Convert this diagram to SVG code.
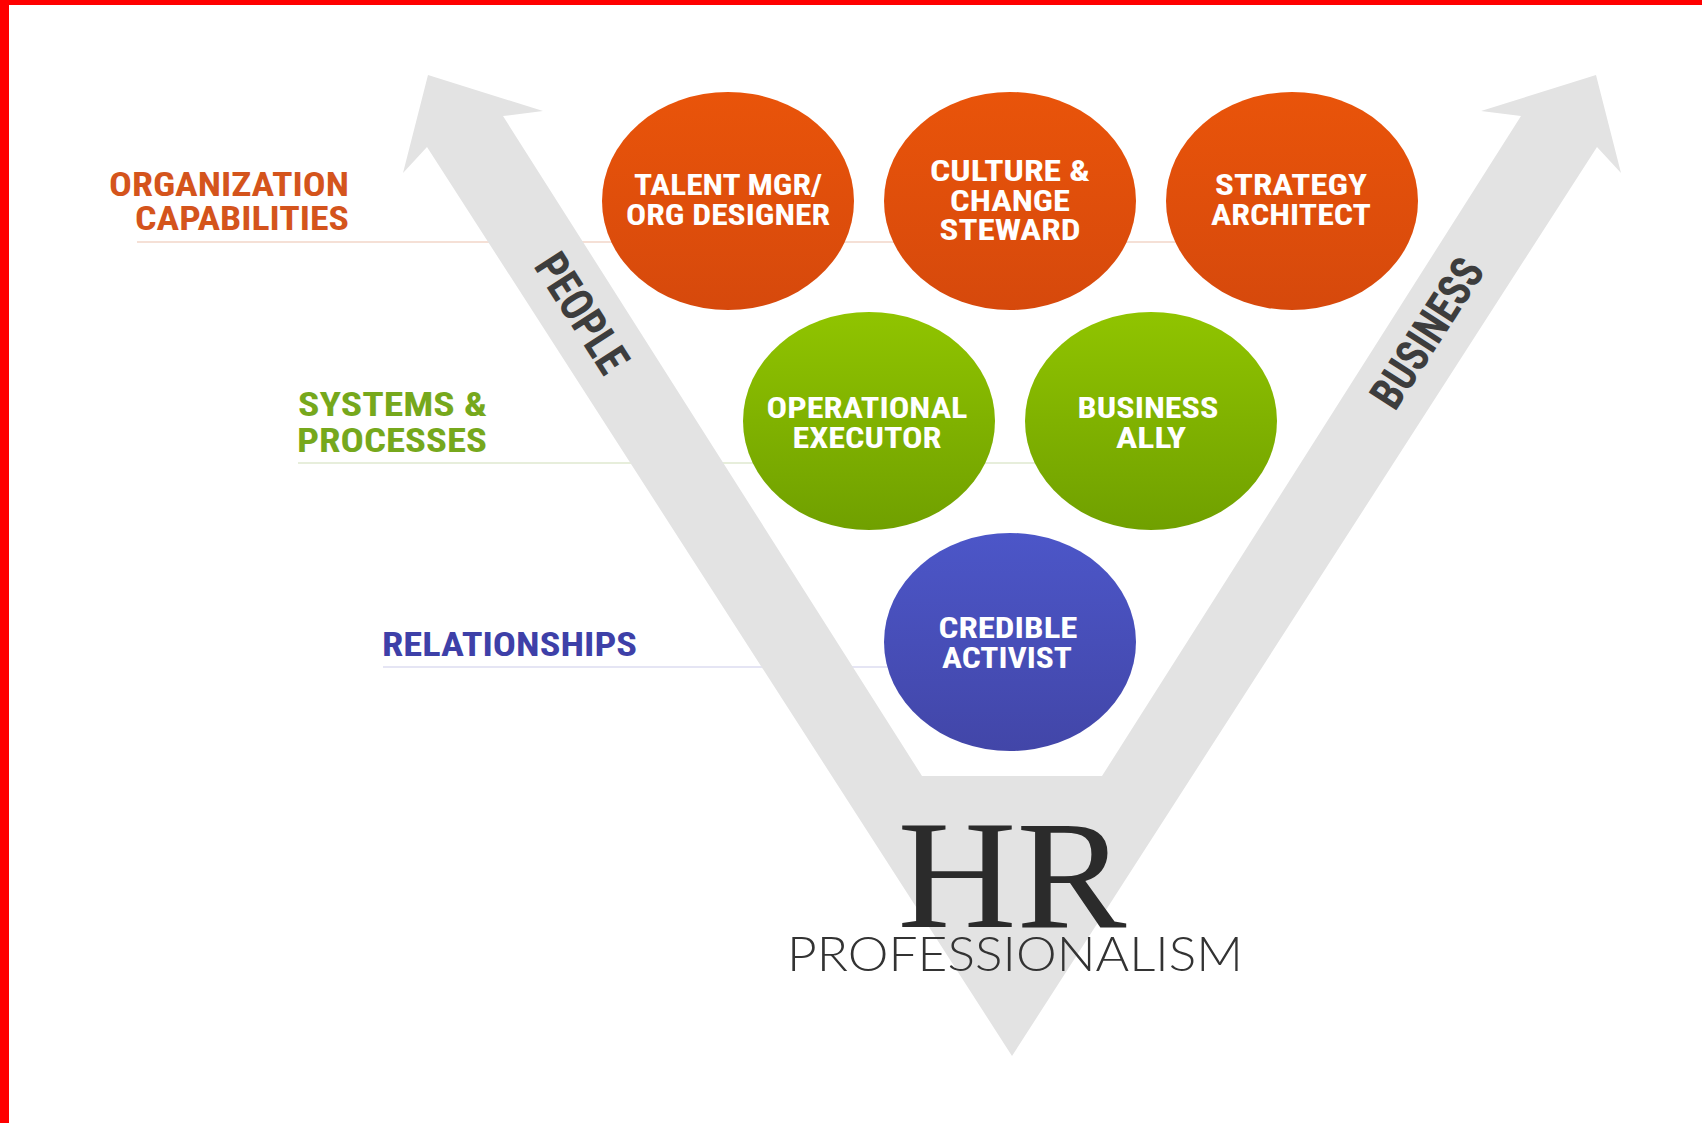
<svg xmlns="http://www.w3.org/2000/svg" width="1702" height="1123" viewBox="0 0 1702 1123">
  <style>
    .cond { font-family: "Liberation Sans Narrow", "Roboto Condensed", "Liberation Sans", Arial, sans-serif; font-weight: bold; }
    .ctext { fill: #ffffff; font-size: 29px; text-anchor: middle; }
    .lbl { font-size: 33px; text-anchor: end; }
    .band { font-size: 46px; fill: #3d3d3d; text-anchor: middle; dominant-baseline: central; }
    .guide { stroke-width: 1.5; fill: none; }
  </style>
  <defs>
    <linearGradient id="gOrange" x1="0" y1="0" x2="0" y2="1">
      <stop offset="0" stop-color="#e9540a"/>
      <stop offset="1" stop-color="#d6490c"/>
    </linearGradient>
    <linearGradient id="gGreen" x1="0" y1="0" x2="0" y2="1">
      <stop offset="0" stop-color="#90c400"/>
      <stop offset="1" stop-color="#70a000"/>
    </linearGradient>
    <linearGradient id="gBlue" x1="0" y1="0" x2="0" y2="1">
      <stop offset="0" stop-color="#4c56c8"/>
      <stop offset="1" stop-color="#4246a8"/>
    </linearGradient>
  </defs>

  <rect x="0" y="0" width="1702" height="1123" fill="#ffffff"/>
  <rect x="0" y="0" width="9" height="1123" fill="#ff0000"/>
  <rect x="0" y="0" width="1702" height="5" fill="#ff0000"/>

  <g id="connectors">
    <line class="guide" x1="137" y1="242" x2="1175" y2="242" stroke="#f2d6c8"/>
    <line class="guide" x1="298" y1="463" x2="1035" y2="463" stroke="#dfe8cf"/>
    <line class="guide" x1="383" y1="667" x2="895" y2="667" stroke="#dcdcf0"/>
  </g>

  <g id="v-arrows">
    <polygon fill="#e3e3e3" points="428,75 543,111 503,116 922,776 1102,776 1521,116 1481,111 1596,75 1621,173 1597,147 1012,1056 427,147 403,173"/>
    <text class="cond band" transform="translate(582,313) rotate(57.3)" textLength="132" lengthAdjust="spacingAndGlyphs">PEOPLE</text>
    <text class="cond band" transform="translate(1427,333) rotate(-57.3)" textLength="168" lengthAdjust="spacingAndGlyphs">BUSINESS</text>
  </g>

  <g id="labels">
    <text class="cond lbl" x="349" y="196" fill="#d4541c" textLength="240" lengthAdjust="spacingAndGlyphs">ORGANIZATION</text>
    <text class="cond lbl" x="349" y="230" fill="#d4541c" textLength="214" lengthAdjust="spacingAndGlyphs">CAPABILITIES</text>
    <text class="cond lbl" x="487" y="416" fill="#76a81c" textLength="189" lengthAdjust="spacingAndGlyphs">SYSTEMS &amp;</text>
    <text class="cond lbl" x="487" y="452" fill="#76a81c" textLength="190" lengthAdjust="spacingAndGlyphs">PROCESSES</text>
    <text class="cond lbl" x="637" y="656" fill="#3e40a8" textLength="255" lengthAdjust="spacingAndGlyphs">RELATIONSHIPS</text>
  </g>

  <g id="node-talent">
    <ellipse cx="728" cy="201" rx="126" ry="109" fill="url(#gOrange)"/>
    <text class="cond ctext" x="728" y="195" textLength="188" lengthAdjust="spacingAndGlyphs">TALENT MGR/</text>
    <text class="cond ctext" x="728" y="225" textLength="204" lengthAdjust="spacingAndGlyphs">ORG DESIGNER</text>
  </g>
  <g id="node-culture">
    <ellipse cx="1010" cy="201" rx="126" ry="109" fill="url(#gOrange)"/>
    <text class="cond ctext" x="1010" y="181" textLength="160" lengthAdjust="spacingAndGlyphs">CULTURE &amp;</text>
    <text class="cond ctext" x="1010" y="211" textLength="120" lengthAdjust="spacingAndGlyphs">CHANGE</text>
    <text class="cond ctext" x="1010" y="240" textLength="141" lengthAdjust="spacingAndGlyphs">STEWARD</text>
  </g>
  <g id="node-strategy">
    <ellipse cx="1292" cy="201" rx="126" ry="109" fill="url(#gOrange)"/>
    <text class="cond ctext" x="1291" y="195" textLength="152" lengthAdjust="spacingAndGlyphs">STRATEGY</text>
    <text class="cond ctext" x="1291" y="225" textLength="160" lengthAdjust="spacingAndGlyphs">ARCHITECT</text>
  </g>
  <g id="node-operational">
    <ellipse cx="869" cy="421" rx="126" ry="109" fill="url(#gGreen)"/>
    <text class="cond ctext" x="867" y="418" textLength="201" lengthAdjust="spacingAndGlyphs">OPERATIONAL</text>
    <text class="cond ctext" x="867" y="448" textLength="149" lengthAdjust="spacingAndGlyphs">EXECUTOR</text>
  </g>
  <g id="node-ally">
    <ellipse cx="1151" cy="421" rx="126" ry="109" fill="url(#gGreen)"/>
    <text class="cond ctext" x="1148" y="418" textLength="141" lengthAdjust="spacingAndGlyphs">BUSINESS</text>
    <text class="cond ctext" x="1151" y="448" textLength="70" lengthAdjust="spacingAndGlyphs">ALLY</text>
  </g>
  <g id="node-credible">
    <ellipse cx="1010" cy="642" rx="126" ry="109" fill="url(#gBlue)"/>
    <text class="cond ctext" x="1008" y="638" textLength="139" lengthAdjust="spacingAndGlyphs">CREDIBLE</text>
    <text class="cond ctext" x="1007" y="668" textLength="130" lengthAdjust="spacingAndGlyphs">ACTIVIST</text>
  </g>

  <g id="title">
    <text x="1012" y="927" font-family="'Liberation Serif', 'DejaVu Serif', serif" font-size="154" fill="#2b2b2b" text-anchor="middle" textLength="229" lengthAdjust="spacingAndGlyphs">HR</text>
    <text x="1015" y="971" font-family="Lato, 'Open Sans', 'Liberation Sans', sans-serif" font-weight="300" font-size="47" fill="#333333" text-anchor="middle" textLength="456" lengthAdjust="spacingAndGlyphs">PROFESSIONALISM</text>
  </g>
</svg>
